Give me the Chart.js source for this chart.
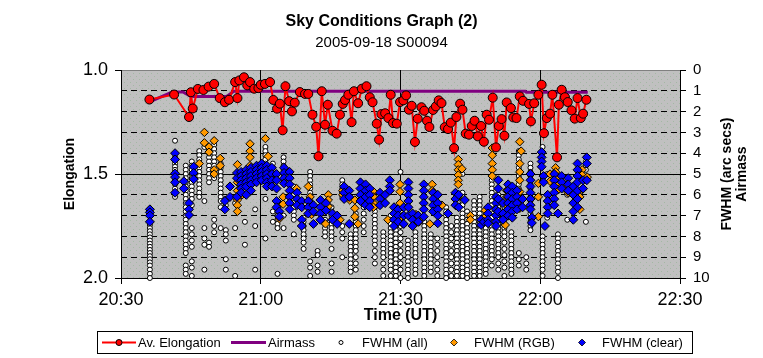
<!DOCTYPE html>
<html>
<head>
<meta charset="utf-8">
<script src="https://cdn.jsdelivr.net/npm/chart.js@4.4.1/dist/chart.umd.min.js"></script>
<style>
  html, body { margin: 0; padding: 0; background: #fff; }
  #wrap { position: relative; width: 763px; height: 358px; }
  #legend { position: absolute; left: 97px; top: 331px; width: 594px; height: 21px;
            border: 1px solid #000; font: 13px Arial, "Liberation Sans", sans-serif; color: #000; }
  #legend span, #legend svg { position: absolute; }
  #legend span { top: 3px; white-space: nowrap; }
</style>
</head>
<body>
<div id="wrap">
  <canvas id="chart" width="763" height="358"></canvas>
  <div id="legend"></div>
</div>
<script>
// x values are minutes after 20:00 UT
const timeTicks = ['20:30', '21:00', '21:30', '22:00', '22:30'];

// Av. Elongation (left axis)
const elongTimes = [
  36.1, 41.4, 44.6, 45.0, 45.4, 46.5, 47.7, 48.8, 50.0, 51.2,
  52.3, 53.2, 54.5, 55.0, 55.4, 56.4, 57.1, 57.7, 58.6, 59.5,
  60.0, 60.9, 62.0, 62.7, 63.5, 64.1, 64.7, 65.3, 66.1, 66.7,
  67.3, 68.4, 69.5, 70.2, 71.1, 71.9, 72.4, 73.1, 73.8, 74.4,
  75.4, 76.3, 77.0, 77.6, 78.1, 78.8, 79.5, 80.0, 80.9, 81.7,
  82.7, 83.4, 84.0, 84.9, 85.4, 85.9, 86.7, 87.4, 87.9, 88.4,
  89.2, 89.9, 90.6, 91.2, 91.8, 92.4, 93.1, 93.7, 94.5, 95.1,
  95.7, 96.2, 97.0, 97.6, 98.2, 98.8, 99.5, 100.2, 100.8, 101.5,
  102.0, 102.8, 103.3, 104.0, 104.7, 105.3, 105.9, 106.6, 107.3, 107.9,
  108.5, 109.0, 109.8, 110.5, 111.1, 111.7, 112.3, 112.8, 113.7, 114.2,
  114.9, 115.6, 116.3, 117.6, 118.0, 118.7, 119.6, 120.3, 120.8, 121.4,
  122.1, 122.6, 123.6, 124.0, 124.6, 125.3, 125.9, 126.7, 127.4, 128.0,
  128.7, 129.2, 129.9
];
const elongValues = [
  1.142, 1.118, 1.226, 1.107, 1.185, 1.091, 1.096, 1.080, 1.067, 1.135,
  1.155, 1.143, 1.058, 1.135, 1.050, 1.035, 1.074, 1.058, 1.090, 1.087,
  1.071, 1.067, 1.058, 1.144, 1.186, 1.162, 1.290, 1.078, 1.150, 1.199,
  1.157, 1.106, 1.115, 1.115, 1.215, 1.273, 1.415, 1.102, 1.263, 1.167,
  1.292, 1.306, 1.215, 1.163, 1.144, 1.119, 1.251, 1.102, 1.160, 1.090,
  1.078, 1.131, 1.155, 1.258, 1.335, 1.212, 1.208, 1.231, 1.119, 1.255,
  1.258, 1.154, 1.146, 1.122, 1.191, 1.172, 1.346, 1.234, 1.179, 1.196,
  1.244, 1.274, 1.192, 1.175, 1.146, 1.159, 1.275, 1.284, 1.253, 1.376,
  1.226, 1.162, 1.191, 1.306, 1.311, 1.269, 1.244, 1.319, 1.269, 1.345,
  1.215, 1.239, 1.133, 1.372, 1.269, 1.236, 1.316, 1.156, 1.183, 1.228,
  1.231, 1.127, 1.148, 1.163, 1.247, 1.160, 1.119, 1.071, 1.304, 1.231,
  1.210, 1.119, 1.420, 1.167, 1.095, 1.131, 1.154, 1.194, 1.234, 1.135,
  1.231, 1.210, 1.143
];

// Airmass (right axis)
const airmassTimes = [36.1, 41.0, 43.3, 45.0, 52.7, 54.2, 116.8, 117.0, 130.2];
const airmassValues = [1.53, 1.06, 1.06, 1.27, 1.27, 1.02, 1.02, 1.07, 1.07];

// FWHM columns: [time, [values...]] (right axis)
const fwhmAllCols = [
  [36.2, [7.3, 7.45, 7.6, 7.75, 7.9, 8.05, 8.2, 8.35, 8.5, 8.65, 8.8, 8.95, 9.1, 9.25, 9.4, 9.6, 9.8, 10.0]],
  [41.6, [3.4, 4.2, 4.35, 4.5, 4.65, 4.8, 4.95, 5.1, 5.3, 5.5, 5.7, 5.9, 6.1]],
  [43.9, [4.6, 4.8, 5.0, 5.2, 5.4, 5.6, 5.8, 6.0, 6.2, 6.4, 6.6, 6.8, 7.0, 7.2, 7.4, 7.6, 7.8, 8.0, 8.2, 8.4, 8.6, 8.8, 9.4, 9.6, 9.8]],
  [45.2, [4.4, 4.6, 4.8, 5.0, 5.2, 5.4, 5.6, 5.8, 6.0, 6.2, 6.5, 7.6, 7.9, 8.2, 8.5, 9.2, 9.5, 9.9]],
  [46.8, [3.9, 4.1, 4.3, 4.5, 4.7, 4.9, 5.1, 5.3, 5.5, 5.7, 5.9, 6.1]],
  [47.9, [3.5, 3.7, 6.3, 7.6, 8.1, 8.4, 9.6]],
  [48.9, [3.8, 4.0, 4.2, 4.4, 4.6, 4.8, 5.0, 5.2, 5.4, 8.3, 8.5]],
  [50.0, [3.6, 3.8, 4.0, 4.2, 4.4, 4.6, 4.8, 5.2, 7.2, 7.5, 7.8]],
  [51.4, [4.5, 4.7, 4.9, 5.1, 5.3, 5.5, 5.7, 5.9, 6.1, 6.3, 6.6, 7.6]],
  [52.5, [6.2, 6.5, 7.7, 7.9, 8.2, 9.1, 9.6]],
  [54.5, [6.4, 7.6, 9.9]],
  [56.6, [7.3, 8.4]],
  [58.8, [6.7, 7.5, 9.6]],
  [61.0, [3.7, 3.9, 4.1, 4.3, 4.5, 6.2, 8.1]],
  [62.6, [4.5, 4.7, 6.8, 7.3]],
  [63.6, [6.4, 6.6, 6.8, 7.0, 7.2, 7.4, 7.6, 9.8]],
  [64.9, [4.2, 4.4, 4.6, 4.8, 5.0, 5.2, 5.4, 7.0, 7.6]],
  [67.1, [5.6, 5.8, 6.0, 6.2, 6.4, 6.6, 6.8, 7.0, 7.2, 7.9]],
  [69.2, [7.1, 7.3, 7.5, 7.7, 7.9, 8.1, 8.3, 8.6]],
  [70.6, [4.9, 5.1, 5.3, 5.5, 5.7, 5.9, 6.1, 6.3, 6.5, 6.7, 6.9, 9.2, 9.5, 9.9]],
  [72.2, [8.7, 8.9, 9.4, 9.7]],
  [73.8, [7.2, 7.4, 7.6, 7.8, 8.0]],
  [75.2, [6.6, 6.8, 7.0, 7.2, 7.4, 7.6, 7.8, 8.0, 8.2, 8.6, 9.3, 9.7]],
  [77.5, [5.3, 5.5, 5.7, 5.9, 6.1, 7.5, 7.8, 8.1, 9.0]],
  [79.3, [7.9, 8.1, 8.3, 8.5, 8.7, 8.9, 9.1, 9.3, 9.5, 9.7]],
  [80.4, [6.9, 7.1, 7.3, 7.5, 7.7, 7.9, 8.1, 8.3, 8.5, 8.7, 9.0, 9.3, 9.6]],
  [82.1, [6.0, 6.3, 6.6, 6.9, 7.2, 7.5, 7.8]],
  [84.5, [6.6, 6.8, 7.0, 7.2, 7.4, 7.6, 7.8, 8.0, 8.2, 8.4, 8.7, 9.0, 9.3]],
  [86.3, [7.8, 8.0, 8.2, 8.4, 8.6, 8.8, 9.0, 9.3, 9.6, 9.9]],
  [87.9, [7.0, 7.2, 7.4, 7.6, 7.8, 8.0, 8.2, 8.4, 8.6, 8.8, 9.0, 9.2, 9.4, 9.6, 9.9]],
  [89.0, [7.3, 7.5, 7.7, 7.9, 8.1, 8.3, 8.5, 8.7, 8.9, 9.1, 9.3, 9.5, 9.7, 9.9]],
  [90.0, [4.9, 6.6, 6.8, 7.0, 7.2, 7.5, 7.8, 8.1, 8.4, 8.7, 9.0, 9.3, 9.6, 10.0]],
  [91.6, [8.2, 8.4, 8.6, 8.8, 9.0, 9.2, 9.4, 9.6, 9.8, 10.0]],
  [93.2, [7.8, 8.0, 8.2, 8.4, 8.6, 8.8, 9.0, 9.2, 9.4, 9.6, 9.8]],
  [95.1, [7.3, 7.5, 7.7, 7.9, 8.1, 8.3, 8.5, 8.7, 8.9, 9.1, 9.3, 9.5, 9.7, 9.9]],
  [96.5, [7.9, 8.1, 8.3, 8.5, 8.7, 8.9, 9.1, 9.3, 9.5, 9.7]],
  [97.9, [8.1, 8.4, 8.7, 9.0, 9.3, 9.6, 9.9]],
  [99.8, [6.6, 6.8, 7.0, 7.2, 7.4, 7.6, 7.8, 8.0, 8.2, 8.4, 8.6, 8.8, 9.0, 9.2, 9.4, 9.6, 9.8, 10.0]],
  [100.9, [7.5, 7.8, 8.1, 8.4, 8.7, 9.0, 9.3, 9.6, 9.9]],
  [102.1, [7.1, 7.3, 7.5, 7.7, 7.9, 8.1, 8.3, 8.5, 8.7, 8.9, 9.1, 9.3, 9.5, 9.7, 9.9]],
  [103.3, [5.0, 5.9, 6.1, 6.3, 6.5, 6.7, 6.9, 7.1, 7.3, 7.5, 7.7, 7.9, 8.1, 8.3, 8.5, 8.7, 8.9, 9.1, 9.3, 9.5, 9.7, 9.9]],
  [104.3, [6.8, 7.0, 7.2, 7.4, 7.6, 7.8, 8.0, 8.2, 8.4, 8.6, 8.8, 9.0, 9.2, 9.4, 9.6, 9.8, 10.0]],
  [105.8, [6.3, 6.5, 6.7, 6.9, 7.1, 7.3, 7.5, 7.7, 7.9, 8.1, 8.3, 8.5, 8.7, 8.9, 9.1, 9.3, 9.5, 9.7, 9.9]],
  [107.0, [6.1, 6.3, 6.5, 6.7, 6.9, 7.1, 7.3, 7.5, 7.7, 7.9, 8.1, 8.3, 8.5, 8.7, 8.9, 9.1, 9.3, 9.5, 9.7, 9.9]],
  [108.3, [7.0, 7.2, 7.4, 7.6, 7.8, 8.0, 8.2, 8.4, 8.6, 8.8, 9.0, 9.2, 9.4, 9.6, 9.8]],
  [109.6, [5.3, 5.5, 5.7, 5.9, 6.1, 6.3, 6.5, 6.7, 6.9, 7.1, 7.3, 7.5, 7.7, 7.9, 8.1, 8.3, 8.5, 8.7, 8.9, 9.1, 9.4]],
  [111.0, [6.0, 6.2, 6.4, 6.6, 6.8, 7.0, 7.2, 7.4, 7.6, 7.8, 8.0, 8.2, 8.4, 8.6, 8.8, 9.0, 9.3, 9.6]],
  [112.3, [6.6, 6.8, 7.0, 7.2, 7.4, 7.6, 7.8, 8.0, 8.3, 8.6, 8.9, 9.2, 9.5, 9.9]],
  [113.8, [7.8, 8.0, 8.2, 8.4, 8.6, 8.8, 9.0, 9.2, 9.4, 9.6, 9.8]],
  [115.4, [3.9, 4.1, 4.3, 4.5, 4.7, 4.9, 5.1, 5.3, 5.5, 5.7, 5.9, 6.1, 6.3, 6.5, 8.8, 9.1, 9.4]],
  [117.0, [9.0, 9.3, 9.6]],
  [117.9, [4.5, 4.7, 4.9, 5.1, 5.3, 5.5, 5.7, 5.9, 6.1, 6.3, 6.5, 6.7, 6.9, 7.1, 7.3, 7.5, 7.7]],
  [120.5, [3.7, 4.0, 8.0, 8.2, 8.4, 8.6, 8.8, 9.0, 9.2, 9.4, 9.6, 9.9]],
  [121.5, [5.0, 6.6, 7.1]],
  [123.8, [7.9, 8.1, 8.3, 8.5, 8.7, 8.9, 9.1, 9.3, 9.5, 9.7, 10.0]],
  [125.8, [6.0, 7.2]],
  [129.8, [4.2, 4.4, 4.6, 4.8, 7.3]]
];

const fwhmRgbCols = [
  [46.8, [4.5]], [47.9, [3.0, 3.5]], [48.9, [3.7, 3.95]], [50.0, [3.4, 4.8, 5.0]],
  [51.3, [4.25, 4.6]], [55.0, [4.55, 5.4, 5.8, 6.25, 6.5, 6.8]], [56.0, [5.5, 6.0]],
  [57.7, [3.55, 3.9, 4.2, 4.6]], [58.4, [4.8, 5.1, 5.4]], [60.4, [4.7, 5.0]],
  [61.0, [3.3]], [61.6, [4.15]], [62.6, [5.0, 5.3]], [64.0, [7.15]], [64.8, [6.1, 6.45]],
  [67.7, [5.7]], [70.2, [5.6]], [70.6, [6.1, 6.35]], [70.9, [6.95]], [73.9, [7.4]],
  [74.5, [6.0, 6.25, 6.55]], [77.0, [7.2]], [77.6, [5.8, 6.0]], [79.1, [6.25]],
  [80.2, [6.25, 6.65, 7.05]], [80.9, [7.4]], [82.1, [6.1]], [84.2, [5.85, 6.1, 6.4, 6.6]],
  [87.3, [7.2]], [89.9, [5.5, 5.85, 6.4]], [90.2, [7.05]], [90.5, [7.4]], [93.3, [6.95]],
  [94.0, [7.3]], [96.3, [7.4]], [96.8, [5.5, 5.8]], [98.9, [6.5]],
  [102.4, [4.3, 4.55, 4.8, 5.05, 5.3, 5.5, 6.1]], [103.2, [4.75]], [105.0, [7.0, 7.2]],
  [108.2, [6.75, 7.05]], [109.7, [3.75, 4.1, 4.5, 4.8, 5.1]], [112.5, [7.45]],
  [112.8, [5.8, 6.1, 6.5]], [115.6, [3.45, 4.5, 4.9, 5.3, 5.85, 6.25, 6.65]], [115.9, [3.9]],
  [119.6, [5.45, 6.1, 7.05]], [122.1, [5.0, 5.35]], [123.3, [4.7, 4.9, 5.2]],
  [123.9, [5.45, 5.75]], [126.0, [5.6, 5.9]], [128.5, [6.1, 6.7]], [129.0, [4.8, 5.05, 5.75]],
  [130.1, [5.15]]
];

const fwhmClearCols = [
  [36.2, [6.7, 6.85, 7.0, 7.3]], [41.6, [4.0, 4.3, 4.97, 5.15, 5.4, 5.9]], [43.5, [5.35, 5.7]],
  [44.6, [6.4, 6.7, 6.97]], [45.6, [4.65, 4.95, 5.25]], [52.3, [6.3, 6.7]], [53.4, [5.6, 6.1]],
  [54.9, [4.95, 5.2, 6.1]], [55.8, [4.9, 5.1, 5.3, 5.5, 5.7, 5.9]], [56.9, [4.8, 5.0, 5.2, 5.4, 5.6, 6.0]],
  [57.9, [4.7, 4.9, 5.1, 5.3, 5.5, 5.8]], [59.1, [4.6, 4.8, 5.0, 5.2, 5.4]], [60.2, [4.5, 4.7, 4.9, 5.1, 5.3]],
  [61.3, [4.6, 4.8, 5.0, 5.2, 5.4, 5.6]], [62.4, [4.7, 5.0, 5.3, 5.6]], [63.4, [5.0, 5.3, 5.7, 6.3, 6.6]],
  [64.0, [6.8, 7.05]], [65.0, [4.7, 4.95, 5.2, 5.45]], [66.2, [4.9, 5.2, 5.5, 5.8, 6.1, 6.4, 6.7]],
  [67.8, [5.9, 6.2, 6.5]], [68.8, [6.3, 6.6, 7.2, 7.5]], [70.2, [6.3, 6.6, 6.9]], [71.3, [6.5, 6.8, 7.4]],
  [72.8, [6.25, 6.6, 6.9, 7.2]], [74.0, [6.4, 6.75]], [75.4, [6.9, 7.2]], [76.4, [7.0, 7.4]],
  [77.9, [5.6, 5.9, 6.2]], [79.0, [5.8, 6.1, 7.4]], [81.4, [5.4, 5.7, 6.0, 6.3]], [82.5, [5.5, 5.8, 6.1, 6.5]],
  [83.4, [5.7, 6.0, 6.3, 6.6]], [85.6, [5.9, 6.2, 6.5]], [86.7, [6.0, 6.4]], [87.7, [5.3, 5.6, 5.8]],
  [88.6, [6.6, 6.9, 7.2, 7.5]], [89.5, [6.7, 7.0, 7.3]], [90.7, [6.6, 7.0, 7.4]],
  [91.7, [5.4, 5.7, 6.0, 6.3, 6.6, 7.0]], [92.6, [6.9, 7.2, 7.5]], [93.8, [7.0, 7.3]],
  [95.0, [5.5, 5.8, 6.1, 6.4, 6.7, 7.05]], [97.0, [5.9, 6.2, 6.5, 6.8]], [98.0, [6.0, 6.4, 6.7, 7.0, 7.37]],
  [100.2, [6.9]], [101.8, [5.9, 6.2, 6.5]], [102.5, [6.0, 6.6]], [103.8, [6.25]], [107.3, [7.2, 7.45]],
  [107.9, [7.3]], [108.8, [6.6, 6.9, 7.2, 7.37]], [110.5, [6.1, 6.4, 6.7, 7.0, 7.3, 7.5]],
  [111.0, [5.3, 5.7, 6.2, 6.8]], [112.0, [6.4, 6.9, 7.2]], [113.1, [5.5, 5.8, 6.1, 6.4, 6.7, 7.0]],
  [114.0, [5.6, 5.9, 6.2, 6.5, 6.8, 7.1]], [115.0, [5.8, 6.1, 6.4, 6.7]], [116.2, [6.2, 6.6]],
  [117.9, [5.0, 5.3, 5.6, 5.9, 6.2, 6.5, 6.7]], [118.2, [7.1, 7.35]], [120.3, [3.95, 4.2, 4.4, 4.65]],
  [120.7, [5.1, 5.4]], [121.0, [7.5]], [121.6, [6.0, 6.3, 6.6, 6.9]], [123.0, [5.0, 5.3, 5.6, 5.9, 6.2, 6.5]],
  [123.8, [6.9]], [124.6, [5.1, 5.4, 5.7]], [126.0, [5.2, 5.5, 5.8]], [127.1, [5.6, 6.0, 6.4, 6.8, 7.2]],
  [128.0, [4.5, 4.8, 5.1, 5.4, 5.8, 6.2, 6.6]], [129.2, [5.3, 5.7]], [130.0, [4.2, 4.5, 5.3]]
];

const FONT = 'Arial, "Liberation Sans", sans-serif';

function colsToPoints(cols) {
    const pts = [];
    cols.forEach(([t, vals]) => vals.forEach(v => pts.push({ x: t, y: v })));
    return pts;
}

function dotPattern(ctx) {
    const c = document.createElement('canvas');
    c.width = 6; c.height = 6;
    const p = c.getContext('2d');
    p.fillStyle = '#C0C0C0';
    p.fillRect(0, 0, 6, 6);
    p.fillStyle = '#A3B8A3';
    p.fillRect(1, 1, 1, 1);
    p.fillRect(4, 4, 1, 1);
    return ctx.createPattern(c, 'repeat');
}

const plotArea = {
    id: 'plotArea',
    beforeDraw(chart) {
        const { ctx, chartArea: a } = chart;
        ctx.save();
        ctx.fillStyle = dotPattern(ctx);
        ctx.fillRect(a.left, a.top, a.right - a.left, a.bottom - a.top);
        ctx.strokeStyle = '#808080';
        ctx.lineWidth = 1;
        ctx.beginPath();
        ctx.moveTo(a.left, a.top + 0.5);
        ctx.lineTo(a.right, a.top + 0.5);
        ctx.stroke();
        ctx.restore();
    },
    afterDraw(chart) {
        // right axis title reads bottom-to-top like the left one
        const ctx = chart.ctx;
        const mid = (chart.chartArea.top + chart.chartArea.bottom) / 2;
        ctx.save();
        ctx.fillStyle = '#000';
        ctx.font = 'bold 14px ' + FONT;
        ctx.textAlign = 'center';
        ctx.textBaseline = 'middle';
        [['FWHM (arc secs)', 727], ['Airmass', 742]].forEach(([txt, x]) => {
            ctx.save();
            ctx.translate(x, mid);
            ctx.rotate(-Math.PI / 2);
            ctx.fillText(txt, 0, 0);
            ctx.restore();
        });
        ctx.restore();
    }
};

const ctx = document.getElementById('chart').getContext('2d');
new Chart(ctx, {
    type: 'scatter',
    data: {
        datasets: [
            {
                label: 'Av. Elongation', type: 'line', yAxisID: 'yL', order: 0,
                data: elongTimes.map((t, i) => ({ x: t, y: elongValues[i] })),
                borderColor: '#FF0000', borderWidth: 2, tension: 0,
                pointRadius: 4.5, pointBackgroundColor: '#FF0000', pointBorderColor: '#000', pointBorderWidth: 1,
                clip: false
            },
            {
                label: 'Airmass', type: 'line', yAxisID: 'yR', order: 1,
                data: airmassTimes.map((t, i) => ({ x: t, y: airmassValues[i] })),
                borderColor: '#800080', borderWidth: 3, pointRadius: 0, tension: 0
            },
            {
                label: 'FWHM (clear)', yAxisID: 'yR', order: 2,
                data: colsToPoints(fwhmClearCols),
                pointStyle: 'rectRot', pointRadius: 4.5,
                backgroundColor: '#0000FF', borderColor: '#000', borderWidth: 1, clip: false
            },
            {
                label: 'FWHM (RGB)', yAxisID: 'yR', order: 3,
                data: colsToPoints(fwhmRgbCols),
                pointStyle: 'rectRot', pointRadius: 4.2,
                backgroundColor: '#FF9900', borderColor: '#000', borderWidth: 1, clip: false
            },
            {
                label: 'FWHM (all)', yAxisID: 'yR', order: 4,
                data: colsToPoints(fwhmAllCols),
                pointStyle: 'circle', pointRadius: 2.5,
                backgroundColor: '#FFFFFF', borderColor: '#000', borderWidth: 1, clip: false
            }
        ]
    },
    options: {
        responsive: false,
        animation: false,
        events: [],
        layout: { padding: { left: 0, right: 0, top: 0, bottom: 30 } },
        plugins: {
            legend: { display: false },
            tooltip: { enabled: false },
            title: {
                display: true, text: 'Sky Conditions Graph (2)', color: '#000',
                font: { family: FONT, size: 16, weight: 'bold' },
                padding: { top: 12, bottom: 0 }
            },
            subtitle: {
                display: true, text: '2005-09-18 S00094', color: '#000',
                font: { family: FONT, size: 15 },
                padding: { top: 3, bottom: 17.8 }
            }
        },
        scales: {
            x: {
                type: 'linear', position: 'bottom', min: 30, max: 150,
                ticks: {
                    stepSize: 30, color: '#000', padding: 5, maxRotation: 0, autoSkip: false,
                    font: { family: FONT, size: 18 },
                    callback: v => timeTicks[(v - 30) / 30]
                },
                grid: {
                    color: c => (c.tick && [60, 90, 120].includes(c.tick.value)) ? '#000' : 'rgba(0,0,0,0)',
                    tickColor: '#000', tickLength: 6
                },
                border: { color: '#000', width: 1 },
                title: {
                    display: true, text: 'Time (UT)', color: '#000',
                    font: { family: FONT, size: 16, weight: 'bold' },
                    padding: { top: 0, bottom: 2.4 }
                },
                afterFit: s => { s.height = 50; }
            },
            yL: {
                type: 'linear', position: 'left', reverse: true, min: 1, max: 2,
                ticks: {
                    stepSize: 0.5, color: '#000', padding: 7, autoSkip: false,
                    font: { family: FONT, size: 18 },
                    callback: v => v.toFixed(1)
                },
                grid: {
                    color: c => (c.tick && c.tick.value === 1.5) ? '#000' : 'rgba(0,0,0,0)',
                    tickColor: '#000', tickLength: 6
                },
                border: { color: '#000', width: 1 },
                title: {
                    display: true, text: 'Elongation', color: '#000',
                    font: { family: FONT, size: 14, weight: 'bold' },
                    padding: { top: 61.6, bottom: 0 }
                },
                afterFit: s => { s.width = 121; }
            },
            yR: {
                type: 'linear', position: 'right', reverse: true, min: 0, max: 10,
                ticks: {
                    stepSize: 1, color: '#000', padding: 7, autoSkip: false,
                    font: { family: FONT, size: 15 }
                },
                grid: {
                    color: c => (c.tick && c.tick.value > 0 && c.tick.value < 10 && c.tick.value !== 5) ? '#000' : 'rgba(0,0,0,0)',
                    tickColor: '#000', tickLength: 6
                },
                border: { color: '#000', width: 1, dash: [6, 4] },
                afterFit: s => { s.width = 83; }
            }
        }
    },
    plugins: [plotArea]
});

// legend, laid out like the original box
const legendItems = [
    { sym: 'line', color: '#FF0000', x1: 4, x2: 38, marker: true, label: 'Av. Elongation', tx: 40 },
    { sym: 'line', color: '#800080', x1: 133, x2: 168, label: 'Airmass', tx: 170 },
    { sym: 'circle', cx: 243, label: 'FWHM (all)', tx: 264 },
    { sym: 'diamond', color: '#FF9900', cx: 356, label: 'FWHM (RGB)', tx: 376 },
    { sym: 'diamond', color: '#0000FF', cx: 484, label: 'FWHM (clear)', tx: 504 }
];
const legend = document.getElementById('legend');
const NS = 'http://www.w3.org/2000/svg';
legendItems.forEach(item => {
    const svg = document.createElementNS(NS, 'svg');
    svg.setAttribute('width', '594');
    svg.setAttribute('height', '21');
    svg.style.left = '0px';
    svg.style.top = '0px';
    let html = '';
    const cy = 10.5;
    if (item.sym === 'line') {
        html += `<line x1="${item.x1}" y1="${cy}" x2="${item.x2}" y2="${cy}" stroke="${item.color}" stroke-width="${item.marker ? 2 : 3}"/>`;
        if (item.marker) {
            const mx = (item.x1 + item.x2) / 2;
            html += `<circle cx="${mx}" cy="${cy}" r="3" fill="${item.color}" stroke="#000" stroke-width="1"/>`;
        }
    } else if (item.sym === 'circle') {
        html += `<circle cx="${item.cx}" cy="${cy}" r="2" fill="#fff" stroke="#000" stroke-width="1"/>`;
    } else {
        const r = 3.5;
        html += `<polygon points="${item.cx},${cy - r} ${item.cx + r},${cy} ${item.cx},${cy + r} ${item.cx - r},${cy}" fill="${item.color}" stroke="#000" stroke-width="0.8"/>`;
    }
    svg.innerHTML = html;
    legend.appendChild(svg);
    const span = document.createElement('span');
    span.textContent = item.label;
    span.style.left = item.tx + 'px';
    legend.appendChild(span);
});
</script>
</body>
</html>
